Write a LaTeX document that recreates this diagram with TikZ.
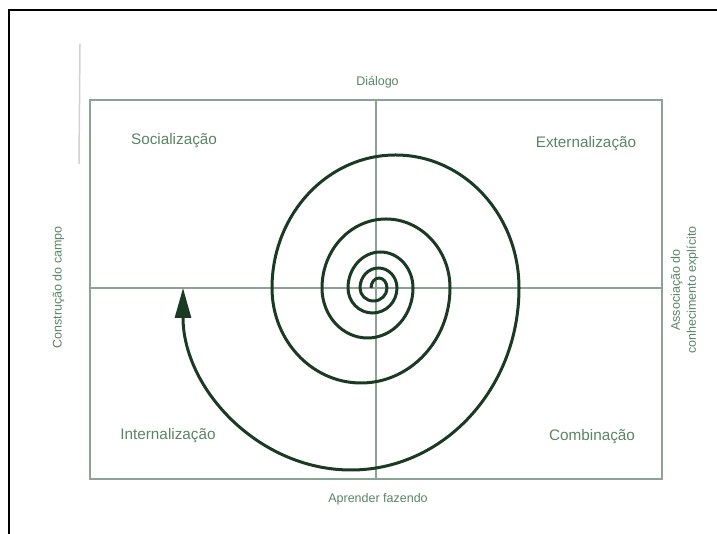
\documentclass[tikz,border=0pt]{standalone}
\usepackage{fontspec}
\setmainfont{Liberation Sans}
\usetikzlibrary{arrows.meta,positioning}
\definecolor{spiralgreen}{HTML}{1B3A24}
\definecolor{gridgreen}{HTML}{8AA392}
\definecolor{labelgreen}{HTML}{5A8466}
\tikzset{
  quadlabel/.style={
    text=labelgreen,
    font=\fontsize{15.3}{18}\selectfont,
    inner sep=0pt
  },
  sidelabel/.style={
    text=labelgreen,
    font=\fontsize{12.5}{16}\selectfont,
    inner sep=0pt,
    align=center
  },
  gridline/.style={
    draw=gridgreen,
    line width=1.2pt
  },
  spiral/.style={
    draw=spiralgreen,
    line width=3pt
  },
  spiralarrow/.style={
    spiral,
    -{Triangle[length=30pt,width=16pt]}
  }
}

\begin{document}
\begin{tikzpicture}[x=1pt,y=1pt]
\useasboundingbox (0,0) rectangle (717,534);
% scan frame
\draw[line width=2.5pt] (9,0) -- (9,524) -- (717,524);
\draw[black!18, line width=1.5pt] (80,490) -- (79,370);
% quadrants
\coordinate (c) at (376,246);
\draw[gridline] (90,55) rectangle (662,434);
\draw[gridline] (376,55) -- (376,434);
\draw[gridline] (90,246) -- (662,246);
% labels
\node[sidelabel] (dialogo) at (377.5,452) {Diálogo};
\node[sidelabel] (aprender) at (378,35) {Aprender fazendo};
\node[sidelabel, rotate=90] (campo) at (58.5,246.5) {Construção do campo};
\node[sidelabel, rotate=90] (assoc) at (684.7,244) {Associação do\\conhecimento explícito};
\node[quadlabel] (soc) at (174,393) {Socialização};
\node[quadlabel] (ext) at (586,390) {Externalização};
\node[quadlabel] (int) at (168,98) {Internalização};
\node[quadlabel] (comb) at (592,97) {Combinação};
% spiral: upper half / lower half ellipses, rx/ry each
\draw[spiral] (c) ++(-5,0)
  \foreach \ux/\uy/\lx/\ly in {8/10/13.5/13, 18.5/20/24.5/25, 32.5/36/45.5/50, 64/69/89/95} {
    arc[start angle=180, end angle=0, x radius=\ux, y radius=\uy]
    arc[start angle=0, end angle=-180, x radius=\lx, y radius=\ly]
  }
  arc[start angle=180, end angle=0, x radius=123.5, y radius=133] coordinate (sright);
\draw[spiralarrow] (sright) arc[start angle=0, end angle=-180, x radius=168, y radius=182];
\end{tikzpicture}
\end{document}
